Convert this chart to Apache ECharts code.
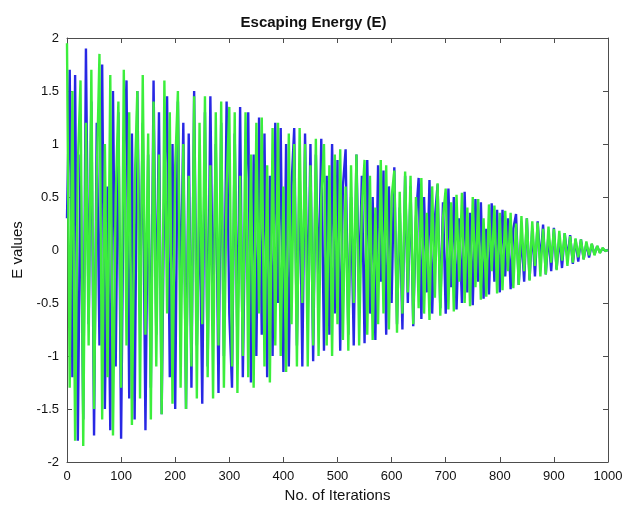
<!DOCTYPE html>
<html><head><meta charset="utf-8">
<script src="https://cdn.jsdelivr.net/npm/echarts@6/dist/echarts.min.js"></script>
<style>html,body{margin:0;padding:0;background:#fff}#c{width:627px;height:513px}</style>
</head><body><div id="c"></div>
<script>
var step = 5; // iteration spacing of the sampled values
var xTicks = [0,100,200,300,400,500,600,700,800,900,1000];
var yTicks = [-2,-1.5,-1,-0.5,0,0.5,1,1.5,2];
var blueE = [
0.3, 1.7, -1.2, 1.65, -1.8, 0.9, -1.6, 1.9, -0.7, 1.4, -1.75,
1.2, -0.9, 1.75, -1.5, 0.6, -1.7, 1.5, -1.1, 1.3, -1.78,
0.8, 1.6, -1.4, 1.1, -1.6, 1.5, -0.5, 1.2, -1.7, 0.9,
-1.3, 1.6, -0.8, 1.3, -1.55, 0.7, 1.45, -1.2, 1.0, -1.5,
1.4, -0.6, 1.2, -1.5, 1.1, -1.3, 1.5, -0.9, 0.5, -1.45,
1.3, -1.1, 1.45, -0.7, 1.0, -1.35, 1.2, -1.0, 1.4, -0.6,
-1.3, 1.1, -0.9, 1.35, -1.2, 0.6, 1.3, -1.25, 0.9, -1.0,
1.25, -0.8, 1.1, -1.2, 0.7, -1.0, 1.2, -0.5, 1.15, -1.15,
1.0, -1.1, 0.6, 1.15, -0.9, 0.8, -1.1, 1.1, -0.6, 1.0,
-1.05, 0.9, -0.4, 1.05, -0.95, 0.7, -0.8, 1.0, -0.6, 0.85,
-0.95, 0.6, 0.95, -0.8, 0.5, -0.9, 0.9, -0.4, 0.7, -0.88,
0.85, -0.6, 0.5, -0.85, 0.8, -0.3, 0.75, -0.8, 0.6, -0.5,
0.78, -0.7, 0.4, -0.75, 0.7, -0.5, 0.6, -0.72, 0.3, 0.68,
-0.65, 0.5, -0.4, 0.66, -0.6, 0.3, 0.62, -0.55, 0.45, -0.6,
0.58, -0.35, 0.5, -0.56, 0.3, -0.5, 0.55, -0.4, 0.35, -0.52,
0.48, -0.3, 0.45, -0.46, 0.2, -0.42, 0.44, -0.3, 0.38, -0.4,
0.38, -0.25, 0.3, -0.37, 0.2, 0.34, -0.33, 0.15, -0.3, 0.3,
-0.28, 0.2, -0.25, 0.27, -0.12, 0.24, -0.23, 0.15, -0.2, 0.21,
-0.18, 0.12, -0.17, 0.16, -0.08, 0.14, -0.13, 0.1, -0.11, 0.1,
-0.085, 0.06, -0.07, 0.055, -0.04, 0.035, -0.025, 0.015, -0.008, 0
];
var greenE = [
1.95, -1.3, 1.5, -1.8, 0.8, 1.6, -1.85, 1.2, -0.9, 1.7, -1.5,
0.7, 1.85, -1.6, 1.0, -1.2, 1.65, -1.75, 0.5, 1.4, -1.3,
1.7, -0.9, 1.3, -1.65, 0.6, 1.5, -1.4, 1.65, -0.8, 1.1,
-1.6, 1.4, -1.1, 0.9, -1.55, 1.6, -0.6, 1.3, -1.45, 0.8,
1.5, -1.3, 1.0, -1.5, 0.7, -1.1, 1.45, -1.4, 1.2, -0.7,
1.45, -1.2, 0.8, -1.4, 1.3, -0.9, 1.4, -1.3, 0.6, 1.35,
-1.1, 1.3, -1.35, 0.7, -1.0, 1.3, -1.2, 0.9, -1.3, 1.2,
-0.6, 1.25, -1.1, 0.8, -1.25, 1.15, -0.9, 1.2, -1.0, 0.6,
-1.15, 1.1, -0.7, 1.0, -1.1, 1.15, -0.5, 1.0, -1.1, 0.8,
-0.9, 1.05, -1.0, 0.5, 1.0, -0.9, 0.8, -1.0, 0.9, -0.7,
0.95, -0.85, 0.6, -0.95, 0.8, -0.5, 0.9, -0.9, 0.4, 0.85,
-0.8, 0.7, -0.85, 0.4, -0.7, 0.85, -0.6, 0.8, -0.75, 0.5,
0.75, -0.78, 0.55, -0.6, 0.74, -0.4, 0.7, -0.7, 0.5, -0.55,
0.68, -0.6, 0.35, -0.66, 0.6, -0.45, 0.63, -0.62, 0.3, 0.58,
-0.56, 0.45, -0.58, 0.52, -0.3, 0.54, -0.5, 0.4, -0.53, 0.5,
-0.35, 0.48, -0.47, 0.3, -0.44, 0.43, -0.2, 0.42, -0.41, 0.35,
-0.38, 0.37, -0.2, 0.35, -0.36, 0.25, -0.33, 0.32, -0.2, 0.3,
-0.29, 0.27, -0.15, 0.26, -0.25, 0.2, -0.23, 0.22, -0.12, 0.2,
-0.19, 0.18, -0.1, 0.16, -0.15, 0.13, -0.12, 0.11, -0.07, 0.1,
-0.09, 0.08, -0.05, 0.06, -0.05, 0.04, -0.03, 0.02, -0.01, 0
];
function pairs(arr){ return arr.map(function(v,i){ return [i*step, v]; }); }
var FONT = 'Liberation Sans, Arial, sans-serif';
var axisLine = {show:true, onZero:false, lineStyle:{color:'#4d4d4d', width:1}};
var tickIn = {show:true, inside:true, length:5, lineStyle:{color:'#4d4d4d'}};
var chart = echarts.init(document.getElementById('c'));
chart.setOption({
  animation:false,
  backgroundColor:'#fff',
  title:{text:'Escaping Energy (E)', left:'center', top:10,
    textStyle:{fontFamily:FONT, fontSize:15, fontWeight:'bold', color:'#111'}},
  grid:{left:67, right:19, top:38, bottom:51},
  xAxis:[
    {type:'value', min:xTicks[0], max:xTicks[xTicks.length-1], interval:100,
     name:'No. of Iterations', nameLocation:'middle', nameGap:24,
     nameTextStyle:{fontFamily:FONT, fontSize:15, color:'#111'},
     axisLine:axisLine, axisTick:tickIn, splitLine:{show:false},
     axisLabel:{fontFamily:FONT, fontSize:13, color:'#111', margin:8,
       formatter:function(v){ return String(v); }}},
    {type:'value', position:'top', min:0, max:1000, interval:100,
     axisLine:axisLine, axisTick:tickIn, axisLabel:{show:false}, splitLine:{show:false}}
  ],
  yAxis:[
    {type:'value', min:yTicks[0], max:yTicks[yTicks.length-1], interval:0.5,
     name:'E values', nameLocation:'middle', nameGap:29, nameRotate:90,
     nameTextStyle:{fontFamily:FONT, fontSize:15, color:'#111'},
     axisLine:axisLine, axisTick:tickIn, splitLine:{show:false},
     axisLabel:{fontFamily:FONT, fontSize:13, color:'#111', margin:8,
       formatter:function(v){ return String(v); }}},
    {type:'value', position:'right', min:-2, max:2, interval:0.5,
     axisLine:axisLine, axisTick:tickIn, axisLabel:{show:false}, splitLine:{show:false}}
  ],
  series:[
    {type:'line', name:'E1', data:pairs(blueE), showSymbol:false, symbol:'none',
     lineStyle:{color:'#2828e4', width:2.4}, z:2},
    {type:'line', name:'E2', data:pairs(greenE), showSymbol:false, symbol:'none',
     lineStyle:{color:'#3cee3c', width:2.4}, z:3}
  ]
});
</script></body></html>
